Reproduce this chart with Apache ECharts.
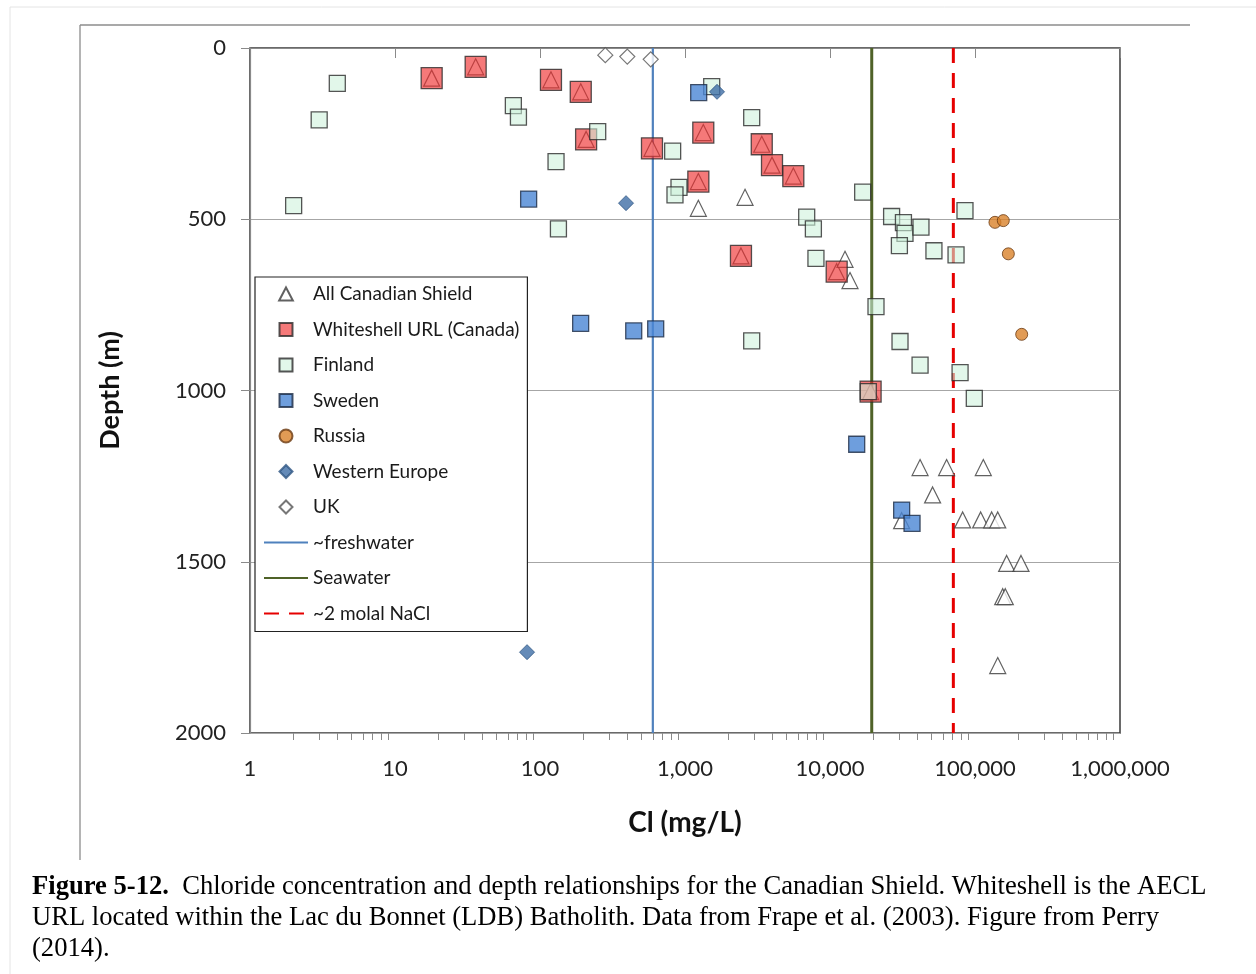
<!DOCTYPE html>
<html>
<head>
<meta charset="utf-8">
<script src="https://cdn.jsdelivr.net/npm/echarts@6/dist/echarts.min.js"></script>
<style>html,body{margin:0;padding:0;background:#fff}#c{width:1256px;height:974px}</style>
</head>
<body>
<div id="c"></div>
<script>
// ---- data: [Cl (mg/L), depth (m)] ----
const canadianShield = [
  [17.9,88],[36,55],[119,93],[191,128],[208,267],[592,293],[1337,247],[3383,281],
  [3981,342],[5585,374],[1236,390],[2432,607],[11120,653],[19060,1003],
  [1236,468],[2594,436],[12690,617],[13740,679],
  [41800,1225],[63700,1225],[114100,1225],[51000,1305],[31200,1380],
  [82200,1378],[109400,1378],[130300,1378],[143500,1378],
  [165300,1505],[207600,1505],[155300,1602],[161800,1602],[143500,1803]
];
const whiteshell = [
  [17.9,88],[36,55],[119,93],[191,128],[208,267],[592,293],[1337,247],[3383,281],
  [3981,342],[5585,374],[1236,390],[2432,607],[11120,653],[19060,1003]
];
const finland = [
  [4,103],[3,210],[2,460],[65.5,168],[71,202],[250,244],[822,301],[129,332],[134,528],
  [1528,113],[2884,203],[909,407],[853,429],[16800,421],[6907,494],[7680,528],[8000,614],
  [20760,755],[2884,855],[30400,857],[41800,926],[78900,948],[98900,1023],
  [26600,492],[32100,510],[32900,541],[42400,523],[30100,577],[52100,592],[74000,604],
  [85300,475],[18370,1003]
];
const sweden = [[83.5,441],[1243,130],[190.7,804],[443,826],[628,820],[15280,1157],[31200,1349],[36800,1388]];
const russia = [[137300,509],[156700,504],[169800,601],[209900,836]];
const westernEurope = [[1663,128],[392,453],[81.4,1764]];
const uk = [[282,21],[400,25],[580,33]];
const freshwaterCl = 600;
const seawaterCl = 19400;
const naclCl = 70900;
const depthRange = [0, 2000];
const xMinorTicks = [];
[1,10,100,1000,10000,100000].forEach(d => { for (let k = 2; k <= 9; k++) xMinorTicks.push(d * k); });
const markerNames = ['All Canadian Shield','Whiteshell URL (Canada)','Finland','Sweden','Russia','Western Europe','UK'];
const lineNames = ['~freshwater','Seawater','~2 molal NaCl'];
const caption = ['{b|Figure 5-12.}  Chloride concentration and depth relationships for the Canadian Shield. Whiteshell is the AECL',
  'URL located within the Lac du Bonnet (LDB) Batholith. Data from Frape et al. (2003). Figure from Perry',
  '(2014).'];

const FONT = 'Lato';
const ICONS = {
  'All Canadian Shield': 'path://M5,0L10,9.5L0,9.5Z',
  'Whiteshell URL (Canada)': 'path://M0,0H10V10H0Z',
  'Finland': 'path://M0,0H10V10H0Z',
  'Sweden': 'path://M0,0H10V10H0Z',
  'Russia': 'circle',
  'Western Europe': 'path://M5,0L10,5L5,10L0,5Z',
  'UK': 'path://M5,0L10,5L5,10L0,5Z'
};
const legendData = markerNames.map(n => ({name: n, icon: ICONS[n]}))
  .concat(lineNames.map(n => ({name: n, itemStyle: {color: 'rgba(0,0,0,0)', borderWidth: 0, borderColor: 'rgba(0,0,0,0)'}})));

const chart = echarts.init(document.getElementById('c'), null, {renderer: 'canvas'});
const vline = v => depthRange.map(d => [v, d]);

chart.setOption({
  animation: false,
  backgroundColor: '#fff',
  textStyle: {fontFamily: FONT},
  grid: {left: 250, top: 48, width: 870, height: 685, show: true, borderColor: '#3a3a3a', borderWidth: 1.5, backgroundColor: 'transparent'},
  legend: {
    left: 255, top: 277, orient: 'vertical',
    data: legendData,
    itemWidth: 44, itemHeight: 13, itemGap: 15.5,
    symbolKeepAspect: true,
    padding: [7, 8, 8, 8],
    borderColor: '#222', borderWidth: 1.2, backgroundColor: '#fff',
    textStyle: {fontFamily: FONT, fontSize: 19, color: '#1a1a1a', lineHeight: 20},
    selectedMode: false, z: 10
  },
  xAxis: [{
    type: 'log', logBase: 10, min: 1, max: 1000000,
    name: 'Cl (mg/L)', nameLocation: 'middle', nameGap: 76,
    nameTextStyle: {fontFamily: FONT, fontSize: 28, fontWeight: 'bold', color: '#111'},
    axisLine: {show: true, lineStyle: {color: '#8a8a8a', width: 1.2}},
    axisTick: {show: true, inside: false, length: 10, lineStyle: {color: '#8a8a8a'}},
    axisLabel: {fontFamily: FONT, fontSize: 22, color: '#222', margin: 25,
      formatter: v => Number(v).toLocaleString('en-US')},
    splitLine: {show: false}
  }, {
    type: 'log', logBase: 10, min: 1, max: 1000000, position: 'bottom',
    axisLine: {show: false},
    axisTick: {show: true, inside: false, length: 7, customValues: xMinorTicks, lineStyle: {color: '#8a8a8a'}},
    axisLabel: {show: false},
    splitLine: {show: false}
  }],
  yAxis: {
    type: 'value', inverse: true, min: 0, max: 2000, interval: 500,
    name: 'Depth (m)', nameLocation: 'middle', nameGap: 126, nameRotate: 90,
    nameTextStyle: {fontFamily: FONT, fontSize: 27, fontWeight: 'bold', color: '#111'},
    axisLine: {show: true, lineStyle: {color: '#8a8a8a', width: 1.2}},
    axisTick: {show: true, inside: false, length: 9, lineStyle: {color: '#8a8a8a'}},
    axisLabel: {fontFamily: FONT, fontSize: 22, color: '#222', margin: 24, formatter: v => String(v)},
    splitLine: {show: true, lineStyle: {color: '#a6a6a6', width: 1.2}}
  },
  graphic: [
    {type: 'line', shape: {x1: 10, y1: 7, x2: 1256, y2: 7}, style: {stroke: '#e4e4e4', lineWidth: 1}},
    {type: 'line', shape: {x1: 10, y1: 7, x2: 10, y2: 974}, style: {stroke: '#e4e4e4', lineWidth: 1}},
    {type: 'line', shape: {x1: 80, y1: 25, x2: 1190, y2: 25}, style: {stroke: '#8c8c8c', lineWidth: 1.3}},
    {type: 'line', shape: {x1: 80, y1: 25, x2: 80, y2: 860}, style: {stroke: '#8c8c8c', lineWidth: 1.3}},
    {type: 'text', left: 32, top: 872, style: {
      text: caption.join('\n'), fontFamily: 'Liberation Serif', fontSize: 26.6, lineHeight: 31, fill: '#000',
      rich: {b: {fontFamily: 'Liberation Serif', fontSize: 26.6, fontWeight: 'bold', lineHeight: 31, fill: '#000'}}
    }}
  ],
  series: [
    {name: '~freshwater', type: 'line', data: vline(freshwaterCl), symbol: 'none', z: 1,
      lineStyle: {color: '#4f81bd', width: 2.2}, itemStyle: {color: '#4f81bd'}},
    {name: 'Seawater', type: 'line', data: vline(seawaterCl), symbol: 'none', z: 1,
      lineStyle: {color: '#4f6228', width: 3}, itemStyle: {color: '#4f6228'}},
    {name: '~2 molal NaCl', type: 'line', data: vline(naclCl), symbol: 'none', z: 1,
      lineStyle: {color: '#e60000', width: 3, type: [15, 10]}, itemStyle: {color: '#e60000'}},
    {name: 'All Canadian Shield', type: 'scatter', data: canadianShield, symbol: 'triangle', symbolSize: 16, z: 3,
      itemStyle: {color: '#ffffff', borderColor: '#3a3a3a', borderWidth: 1.2}},
    {name: 'Whiteshell URL (Canada)', type: 'scatter', data: whiteshell, symbol: 'rect', symbolSize: 21, z: 3,
      itemStyle: {color: 'rgba(240,45,45,0.8)', borderColor: '#2a2a2a', borderWidth: 1.3}},
    {name: 'Finland', type: 'scatter', data: finland, symbol: 'rect', symbolSize: 16, z: 3,
      itemStyle: {color: 'rgba(205,241,219,0.72)', borderColor: '#2a2a2a', borderWidth: 1.3}},
    {name: 'Sweden', type: 'scatter', data: sweden, symbol: 'rect', symbolSize: 16, z: 3,
      itemStyle: {color: '#4a86d4', borderColor: '#1c2a44', borderWidth: 1.3}},
    {name: 'Russia', type: 'scatter', data: russia, symbol: 'circle', symbolSize: 12, z: 3,
      itemStyle: {color: '#d9822b', borderColor: '#6a3a12', borderWidth: 1}},
    {name: 'Western Europe', type: 'scatter', data: westernEurope, symbol: 'diamond', symbolSize: 15, z: 3,
      itemStyle: {color: '#3e6ea6', borderColor: '#2f5683', borderWidth: 1}},
    {name: 'UK', type: 'scatter', data: uk, symbol: 'diamond', symbolSize: 15, z: 3,
      itemStyle: {color: '#ffffff', borderColor: '#555555', borderWidth: 1.2}}
  ]
});
</script>
</body>
</html>
